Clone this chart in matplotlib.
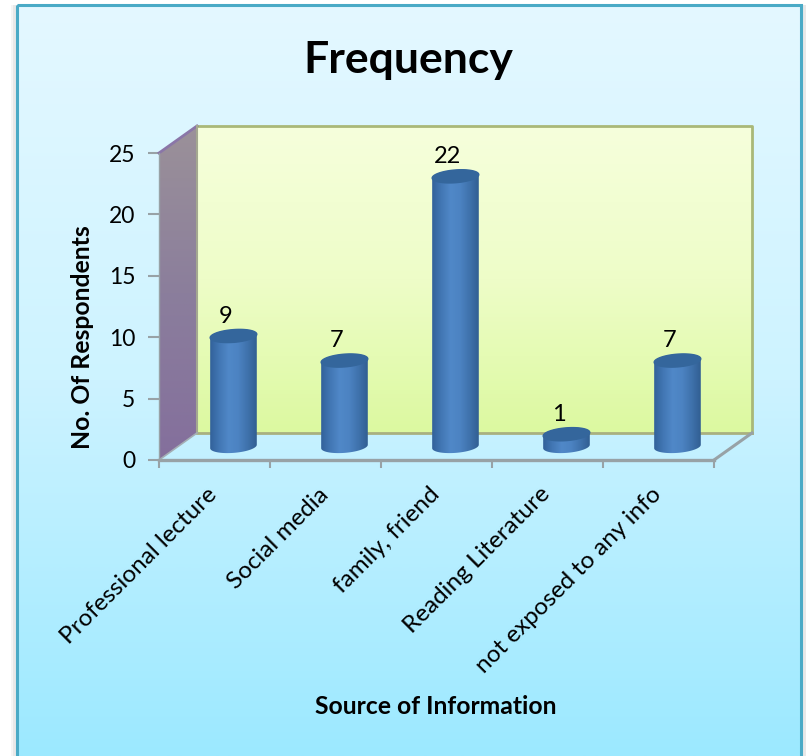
import numpy as np
import matplotlib
matplotlib.use('Agg')
import matplotlib.pyplot as plt
from matplotlib.colors import LinearSegmentedColormap
from matplotlib.patches import Polygon, Rectangle
from matplotlib.transforms import ScaledTranslation

plt.rcParams['font.family'] = ['Lato', 'DejaVu Sans']

categories = ['Professional lecture', 'Social media', 'family, friend',
              'Reading Literature', 'not exposed to any info']
values = [9, 7, 22, 1, 7]
y_ticks = [0, 5, 10, 15, 20, 25]
title = 'Frequency'
x_title = 'Source of Information'
y_title = 'No. Of Respondents'

W, H = 806, 756
# depth of the fake 3d box in data units
DX, DY = 0.342, 2.2
HALF_W, HALF_H, TILT = 0.21, 0.52, 0.14


def gradient(ax, colors, extent, clip, vertical=True, zorder=1):
    cmap = LinearSegmentedColormap.from_list('g', colors)
    ramp = np.linspace(0, 1, 256)
    ramp = ramp[:, None] if vertical else ramp[None, :]
    im = ax.imshow(ramp, cmap=cmap, extent=extent, origin='upper' if vertical else 'lower',
                   aspect='auto', zorder=zorder, interpolation='bilinear')
    # the box sticks out of the axes, so only the patch may clip it
    im.set_clip_path(clip)
    im.set_clip_box(ax.figure.bbox)
    return im


fig = plt.figure(figsize=(W / 100, H / 100), dpi=100, facecolor='white')

# background panel, in pixel coordinates
bg = fig.add_axes([0, 0, 1, 1])
bg.axis('off')
for off, c in [(5, '#f5f5f5'), (3, '#e8e8e8')]:
    bg.add_patch(Rectangle((16 - off, 5), 787 + 2 * off, 760, fc=c, ec='none', zorder=0))
panel = Rectangle((17, 5), 784, 760, fc='none', ec='none')
bg.add_patch(panel)
gradient(bg, ['#e4f8ff', '#cdf3ff', '#9ce9ff'], (17, 801, 756, 5), panel)
bg.add_patch(Rectangle((17, 5), 784, 760, fc='none', ec='#4aaac6', lw=2.2, zorder=3))
bg.set_xlim(0, W)
bg.set_ylim(H, 0)

# chart axes: x in categories, y in values, over the front plane of the box
ax = fig.add_axes([159 / W, 1 - 460 / H, 555 / W, 307 / H])
ax.patch.set_visible(False)
for s in ax.spines.values():
    s.set_visible(False)

n = len(categories)
ymax = y_ticks[-1]

# back wall
wall = Polygon([(DX, DY), (n + DX, DY), (n + DX, ymax + DY), (DX, ymax + DY)],
               closed=True, fc='none', ec='none')
ax.add_patch(wall)
gradient(ax, ['#f6ffdc', '#eefdc8', '#dcf9a0'], (DX, n + DX, DY, ymax + DY), wall)
ax.plot([DX, n + DX, n + DX], [ymax + DY, ymax + DY, DY], color='#a9b878', lw=2,
        clip_on=False, zorder=2)
ax.plot([DX, n + DX], [DY, DY], color='#a9b080', lw=2, clip_on=False, zorder=2)

# side wall
side = Polygon([(0, 0), (DX, DY), (DX, ymax + DY), (0, ymax)], closed=True, fc='none', ec='none')
ax.add_patch(side)
gradient(ax, ['#9b9199', '#8b7e9c', '#846f9c'], (0, DX, 0, ymax + DY), side)
ax.plot([0, DX], [ymax, ymax + DY], color='#8a76a8', lw=2, clip_on=False, zorder=2)
ax.plot([DX, DX], [DY, ymax + DY], color='#a4a890', lw=1.5, clip_on=False, zorder=2)

# floor edges
ax.plot([n, n + DX], [0, DY], color='#98a2a6', lw=2.2, clip_on=False, zorder=2)
ax.plot([0, DX], [0, DY], color='#a4aeb4', lw=1.2, clip_on=False, zorder=2)
ax.plot([0, n], [0, 0], color='#98a2a6', lw=2.4, clip_on=False, zorder=2)
ax.plot([0, 0], [0, ymax], color='#98a2a6', lw=1, clip_on=False, zorder=2)

# cylinders
bar_cmap = ['#32619a', '#4277b4', '#5088c8', '#4c83c2', '#3f72ac', '#315f92']
t = np.linspace(0, 2 * np.pi, 100)
t_low = np.linspace(np.pi, 2 * np.pi, 50)
t_up = np.linspace(0, np.pi, 50)
for i, v in enumerate(values):
    cx = i + 0.5 + DX / 2
    base = DY / 2
    top = base + v
    xs = np.r_[cx + HALF_W * np.cos(t_low), cx + HALF_W * np.cos(t_up)]
    ys = np.r_[base + HALF_H * np.sin(t_low) + TILT * np.cos(t_low),
               top + HALF_H * np.sin(t_up) + TILT * np.cos(t_up)]
    body = Polygon(np.c_[xs, ys], closed=True, fc='none', ec='none')
    ax.add_patch(body)
    gradient(ax, bar_cmap, (cx - HALF_W, cx + HALF_W, base - 1, top + 1), body,
             vertical=False, zorder=3)
    ax.fill(cx + HALF_W * np.cos(t), top + HALF_H * np.sin(t) + TILT * np.cos(t),
            color='#34669c', zorder=4, clip_on=False)
    ax.text(cx - 0.07, top + 1.6, str(v), ha='center', va='center',
            fontsize=17, color='black', zorder=5)

ax.set_xlim(0, 5)
ax.set_ylim(0, 25)

ax.set_xticks(range(n + 1))
ax.set_xticklabels([])
ax.set_xticks(np.arange(n) + 0.5, minor=True)
ax.set_xticklabels(categories, minor=True, rotation=45, ha='right', rotation_mode='anchor',
                   fontsize=17.5)
ax.tick_params(axis='x', which='minor', length=0, pad=17)
ax.tick_params(axis='x', which='major', length=6, width=1.5, color='#98a2a6')
shift = ScaledTranslation(-8 / 100, 0, fig.dpi_scale_trans)
for lab in ax.get_xticklabels(minor=True):
    lab.set_transform(lab.get_transform() + shift)
ax.set_yticks(y_ticks)
ax.tick_params(axis='y', length=8, width=1.5, color='#98a2a6', labelsize=16.5, pad=9)

fig.text(408 / W, 1 - 60 / H, title, ha='center', va='center', fontsize=32, fontweight='bold')
fig.text(436 / W, 1 - 707 / H, x_title, ha='center', va='center', fontsize=17.8, fontweight='bold')
fig.text(83 / W, 1 - 337 / H, y_title, ha='center', va='center', rotation=90,
         fontsize=17.8, fontweight='bold')

fig.savefig('out.png', dpi=100)
